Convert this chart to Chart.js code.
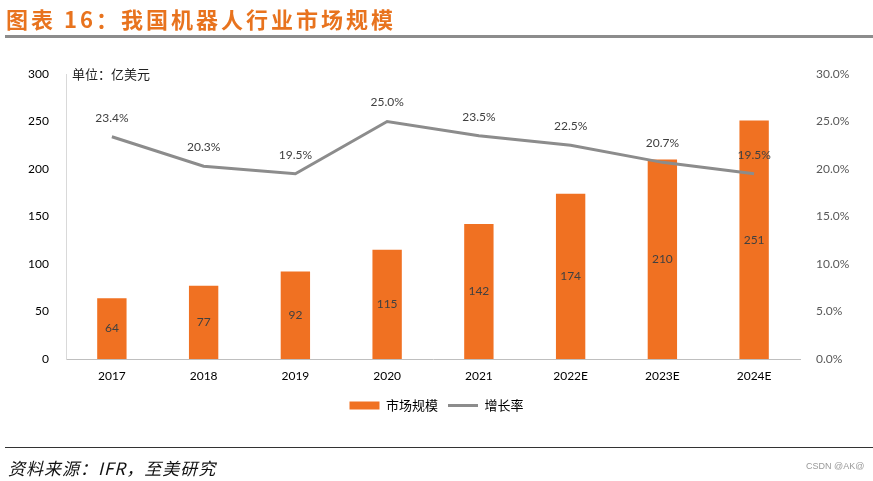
<!DOCTYPE html>
<html><head><meta charset="utf-8">
<script src="https://cdn.jsdelivr.net/npm/chart.js@4/dist/chart.umd.min.js"></script>
<style>
html,body{margin:0;padding:0;background:#fff;}
#wrap{position:relative;width:873px;height:481px;overflow:hidden;font-family:"Noto Sans CJK SC",sans-serif;}
#title{position:absolute;left:6px;top:2px;font-size:22px;font-weight:bold;color:#E8731E;letter-spacing:3px;white-space:nowrap;}
#tline{position:absolute;left:5px;right:0;top:35px;height:3px;background:#8C8C8C;}
#fline{position:absolute;left:5px;right:0;top:447px;height:1px;background:#333;}
#src{position:absolute;left:8px;top:455px;font-size:17px;font-style:italic;color:#111;white-space:nowrap;letter-spacing:1px;}
#csdn{position:absolute;left:806px;top:461px;font-size:9px;color:#999;font-family:"Liberation Sans",sans-serif;}
#unit{position:absolute;left:72px;top:64px;font-size:13px;color:#222;}
canvas{position:absolute;left:0;top:0;}
</style></head>
<body><div id="wrap">
<canvas id="c" width="873" height="481"></canvas>
<div id="title">图表 16：我国机器人行业市场规模</div>
<div id="tline"></div>
<div id="unit">单位：亿美元</div>
<div id="fline"></div>
<div id="src">资料来源：IFR，至美研究</div>
<div id="csdn">CSDN @AK@</div>
</div>
<script>
const categories = ['2017','2018','2019','2020','2021','2022E','2023E','2024E'];
const marketSize = [64, 77, 92, 115, 142, 174, 210, 251];
const growthRate = [23.4, 20.3, 19.5, 25.0, 23.5, 22.5, 20.7, 19.5];
const leftTicks = [0, 50, 100, 150, 200, 250, 300];
const rightTicks = [0, 5, 10, 15, 20, 25, 30];

const FONT = '"Lato","Noto Sans CJK SC",sans-serif';
const BAR_COLOR = '#F07122';
const LINE_COLOR = '#8C8C8C';

const labelPlugin = {
  id: 'valueLabels',
  afterDatasetsDraw(chart) {
    const ctx = chart.ctx;
    ctx.save();
    ctx.font = '12px ' + FONT;
    ctx.fillStyle = '#404040';
    ctx.textAlign = 'center';
    ctx.textBaseline = 'middle';
    const barMeta = chart.getDatasetMeta(0);
    barMeta.data.forEach((el, i) => {
      const y = (el.y + el.base) / 2;
      ctx.fillText(String(marketSize[i]), el.x, y);
    });
    const lineMeta = chart.getDatasetMeta(1);
    lineMeta.data.forEach((el, i) => {
      ctx.fillText(growthRate[i].toFixed(1) + '%', el.x, el.y - 19);
    });
    ctx.restore();
  }
};

new Chart(document.getElementById('c'), {
  data: {
    labels: categories,
    datasets: [
      { type: 'bar', label: '市场规模', data: marketSize, yAxisID: 'y',
        backgroundColor: BAR_COLOR, categoryPercentage: 1, barPercentage: 0.32, order: 2 },
      { type: 'line', label: '增长率', data: growthRate, yAxisID: 'y1',
        borderColor: LINE_COLOR, backgroundColor: LINE_COLOR, borderWidth: 3,
        pointRadius: 0, tension: 0, order: 1 }
    ]
  },
  options: {
    responsive: false,
    animation: false,
    layout: { padding: { top: 74, bottom: 59, left: 0, right: 0 } },
    plugins: {
      legend: {
        position: 'bottom',
        labels: {
          font: { size: 13, family: '"Noto Sans CJK SC",sans-serif' },
          color: '#595959',
          usePointStyle: true, pointStyleWidth: 30,
          boxWidth: 30, boxHeight: 8, padding: 10,
          generateLabels(chart) {
            return [
              { text: '市场规模', fillStyle: BAR_COLOR, strokeStyle: BAR_COLOR, lineWidth: 0, pointStyle: 'rect', datasetIndex: 0 },
              { text: '增长率', fillStyle: LINE_COLOR, strokeStyle: LINE_COLOR, lineWidth: 3, pointStyle: 'line', datasetIndex: 1 }
            ];
          }
        }
      },
      tooltip: { enabled: false }
    },
    scales: {
      x: {
        grid: { display: false, drawTicks: false },
        border: { display: true, color: '#BFBFBF', width: 1 },
        ticks: { color: '#000', font: { size: 12, family: FONT }, padding: 10 },
        afterFit(s) { s.height = 30; }
      },
      y: {
        position: 'left', min: 0, max: 300,
        afterBuildTicks(s) { s.ticks = leftTicks.map(v => ({ value: v })); },
        grid: { display: false, drawTicks: false },
        border: { display: true, color: '#D9D9D9', width: 1 },
        ticks: { color: '#000', font: { size: 12, family: FONT }, padding: 17 },
        afterFit(s) { s.width = 66; }
      },
      y1: {
        position: 'right', min: 0, max: 30,
        afterBuildTicks(s) { s.ticks = rightTicks.map(v => ({ value: v })); },
        grid: { display: false, drawTicks: false },
        border: { display: false },
        ticks: { color: '#595959', font: { size: 12, family: FONT }, padding: 16,
          callback: v => Number(v).toFixed(1) + '%' },
        afterFit(s) { s.width = 73; }
      }
    }
  },
  plugins: [labelPlugin]
});
</script>
</body></html>
